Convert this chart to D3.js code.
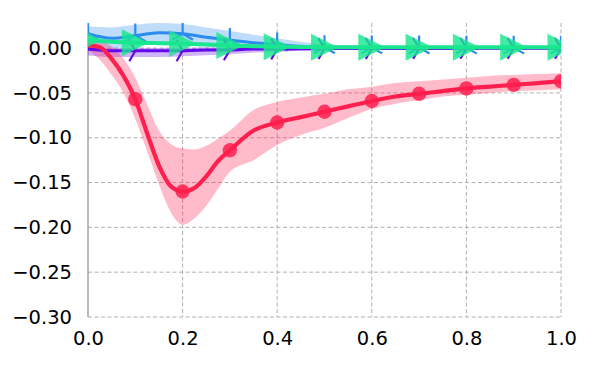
<!DOCTYPE html>
<html>
<head>
<meta charset="utf-8">
<script src="https://cdn.jsdelivr.net/npm/d3@7/dist/d3.min.js"></script>
<style>
html,body{margin:0;padding:0;background:#fff;}
svg{display:block;}
text{font-family:"DejaVu Sans",sans-serif;}
</style>
</head>
<body>
<svg id="chart" width="600" height="375"></svg>
<script>
// ---------- data ----------
const redX    = [0,0.025,0.05,0.075,0.1,0.125,0.15,0.175,0.2,0.225,0.25,0.275,0.3,0.35,0.4,0.45,0.5,0.55,0.6,0.65,0.7,0.75,0.8,0.85,0.9,0.95,1.0];
const redMean = [0.003,0.001,-0.012,-0.031,-0.057,-0.095,-0.131,-0.154,-0.160,-0.156,-0.143,-0.126,-0.114,-0.092,-0.083,-0.077,-0.071,-0.065,-0.059,-0.054,-0.051,-0.048,-0.045,-0.043,-0.041,-0.039,-0.037];
const redHigh = [0.008,0.007,0.002,-0.012,-0.033,-0.063,-0.092,-0.107,-0.112,-0.113,-0.109,-0.101,-0.092,-0.069,-0.060,-0.055,-0.051,-0.046,-0.043,-0.039,-0.037,-0.035,-0.033,-0.031,-0.030,-0.029,-0.028];
const redLow  = [-0.002,-0.013,-0.030,-0.050,-0.079,-0.115,-0.152,-0.183,-0.197,-0.190,-0.176,-0.157,-0.138,-0.125,-0.108,-0.097,-0.089,-0.078,-0.068,-0.062,-0.058,-0.054,-0.052,-0.050,-0.048,-0.047,-0.046];
const redMarkX = [0.1,0.2,0.3,0.4,0.5,0.6,0.7,0.8,0.9,1.0];

const gridX = [0,0.05,0.1,0.15,0.2,0.25,0.3,0.35,0.4,0.45,0.5,0.55,0.6,0.65,0.7,0.75,0.8,0.85,0.9,0.95,1.0];
const blueMean = [0.016,0.011,0.014,0.017,0.016,0.012,0.009,0.006,0.004,0.002,0.001,0.001,0.0008,0.0008,0.0006,0.0006,0.0005,0.0005,0.0005,0.0005,0.0005];
const blueHigh = [0.024,0.023,0.026,0.028,0.027,0.023,0.019,0.015,0.011,0.007,0.004,0.003,0.002,0.0018,0.0016,0.0015,0.0015,0.0014,0.0014,0.0013,0.0013];
const blueLow  = [0.006,0.000,0.003,0.006,0.005,0.002,0.000,-0.001,-0.001,-0.001,-0.001,-0.0008,-0.0006,-0.0005,-0.0005,-0.0005,-0.0005,-0.0005,-0.0005,-0.0005,-0.0005];

const purpMean = [-0.001,-0.003,-0.003,-0.003,-0.003,-0.002,-0.002,-0.001,-0.001,-0.0008,-0.0006,-0.0005,-0.0005,-0.0004,-0.0004,-0.0004,-0.0003,-0.0003,-0.0003,-0.0003,-0.0003];
const purpHigh = [0.002,0.000,0.000,0.000,0.000,0.001,0.000,0.001,0.001,0.0008,0.0006,0.0005,0.0005,0.0005,0.0005,0.0005,0.0005,0.0005,0.0005,0.0005,0.0005];
const purpLow  = [-0.008,-0.010,-0.010,-0.010,-0.009,-0.008,-0.007,-0.005,-0.004,-0.003,-0.002,-0.0018,-0.0015,-0.0015,-0.0014,-0.0014,-0.0013,-0.0013,-0.0012,-0.0012,-0.0012];

const greenMean = [0.009,0.007,0.006,0.0055,0.005,0.004,0.003,0.002,0.0015,0.0012,0.001,0.001,0.001,0.001,0.001,0.001,0.001,0.001,0.001,0.001,0.001];
const greenHigh = [0.011,0.009,0.008,0.0075,0.007,0.006,0.005,0.0035,0.003,0.0025,0.002,0.002,0.002,0.002,0.002,0.002,0.002,0.002,0.002,0.002,0.002];
const greenLow  = [0.007,0.005,0.004,0.0035,0.003,0.002,0.001,0.0005,0.000,0.000,0.000,0.000,0.000,0.000,0.000,0.000,0.000,0.000,0.000,0.000,0.000];
const otherMarkX = [0,0.1,0.2,0.3,0.4,0.5,0.6,0.7,0.8,0.9,1.0];

const xTicks = [0,0.2,0.4,0.6,0.8,1.0];
const yTicks = [0,-0.05,-0.10,-0.15,-0.20,-0.25,-0.30];

// ---------- layout ----------
const svg = d3.select("#chart");
const L = 88, R = 561, T = 23, B = 317;
const x = d3.scaleLinear().domain([0,1]).range([L,R]);
const y = d3.scaleLinear().domain([-0.30,0.028]).range([B,T]);

const COL = {red:"#ff1f4e", blue:"#2b8bf0", purple:"#6208ea", green:"#19e68f"};

svg.append("defs").append("clipPath").attr("id","clip")
  .append("rect").attr("x",L).attr("y",T).attr("width",R-L).attr("height",B-T);

// grid
const grid = svg.append("g");
grid.selectAll("line.gx").data(xTicks.filter(d=>d>0)).enter().append("line")
  .attr("x1",d=>x(d)).attr("x2",d=>x(d)).attr("y1",T).attr("y2",B)
  .attr("stroke","#a8a8a8").attr("stroke-width",0.9).attr("stroke-dasharray","4,2.5");
grid.selectAll("line.gy").data(yTicks).enter().append("line")
  .attr("x1",L).attr("x2",R).attr("y1",d=>y(d)).attr("y2",d=>y(d))
  .attr("stroke","#a8a8a8").attr("stroke-width",0.9).attr("stroke-dasharray","4,2.5");

// axes (labels only)
const xAxis = svg.append("g").attr("transform",`translate(0,${B})`)
  .call(d3.axisBottom(x).tickValues(xTicks).tickFormat(d3.format(".1f")).tickSize(0).tickPadding(14));
const yAxis = svg.append("g").attr("transform",`translate(${L},0)`)
  .call(d3.axisLeft(y).tickValues(yTicks).tickFormat(d=>d3.format(".2f")(d).replace("-","\u2212")).tickSize(0).tickPadding(16));
[xAxis,yAxis].forEach(a=>{
  a.select(".domain").remove();
  a.selectAll("text").attr("font-size","19.5px").attr("fill","#000").attr("font-family","DejaVu Sans");
});
// left spine
svg.append("line").attr("x1",L).attr("x2",L).attr("y1",T).attr("y2",B)
  .attr("stroke","#808080").attr("stroke-width",1.1);

const plot = svg.append("g").attr("clip-path","url(#clip)");

function mk(xs, m, lo, hi){ return xs.map((v,i)=>({x:v,m:m[i],lo:lo[i],hi:hi[i]})); }
const area = d3.area().x(d=>x(d.x)).y0(d=>y(d.lo)).y1(d=>y(d.hi)).curve(d3.curveMonotoneX);
const line = d3.line().x(d=>x(d.x)).y(d=>y(d.m)).curve(d3.curveMonotoneX);

const blue = mk(gridX, blueMean, blueLow, blueHigh);
const purp = mk(gridX, purpMean, purpLow, purpHigh);
const red  = mk(redX, redMean, redLow, redHigh);
const green= mk(gridX, greenMean, greenLow, greenHigh);
const near = (a,b)=>Math.abs(a-b)<1e-9;
const pick = (data, xs)=>data.filter(d=>xs.some(v=>near(v,d.x)));

// bands
plot.append("path").datum(blue).attr("d",area).attr("fill",COL.blue).attr("fill-opacity",0.3);
plot.append("path").datum(purp).attr("d",area).attr("fill",COL.purple).attr("fill-opacity",0.3);
plot.append("path").datum(red).attr("d",area).attr("fill",COL.red).attr("fill-opacity",0.3);
plot.append("path").datum(green).attr("d",area).attr("fill",COL.green).attr("fill-opacity",0.3);

// blue line + tri_up markers
plot.append("path").datum(blue).attr("d",line).attr("fill","none").attr("stroke",COL.blue).attr("stroke-width",3);
const triUp = "M0,0L0,-12M0,0L-10.4,6M0,0L10.4,6";
plot.selectAll("path.bm").data(pick(blue,otherMarkX)).enter().append("path")
  .attr("transform",d=>`translate(${x(d.x)},${y(d.m)})`).attr("d",triUp)
  .attr("stroke",COL.blue).attr("stroke-width",2.2).attr("fill","none");

// purple line + tri_right markers
plot.append("path").datum(purp).attr("d",line).attr("fill","none").attr("stroke",COL.purple).attr("stroke-width",3);
const triRight = "M0,0L12,0M0,0L-6,-10.4M0,0L-6,10.4";
plot.selectAll("path.pm").data(pick(purp,otherMarkX)).enter().append("path")
  .attr("transform",d=>`translate(${x(d.x)},${y(d.m)})`).attr("d",triRight)
  .attr("stroke",COL.purple).attr("stroke-width",2.2).attr("fill","none");

// red line + circles
plot.append("path").datum(red).attr("d",line).attr("fill","none").attr("stroke",COL.red).attr("stroke-width",4.2);
plot.selectAll("circle.rm").data(pick(red,redMarkX)).enter().append("circle")
  .attr("cx",d=>x(d.x)).attr("cy",d=>y(d.m)).attr("r",7.2)
  .attr("fill",COL.red).attr("fill-opacity",0.85);

// green line + right triangles
plot.append("path").datum(green).attr("d",line).attr("fill","none").attr("stroke",COL.green).attr("stroke-width",4);
const triMark = "M-13.5,-13.5L13.5,0L-13.5,13.5Z";
plot.selectAll("path.gm").data(pick(green,otherMarkX)).enter().append("path")
  .attr("transform",d=>`translate(${x(d.x)},${y(d.m)})`).attr("d",triMark)
  .attr("fill",COL.green).attr("fill-opacity",0.82);
</script>
</body>
</html>
